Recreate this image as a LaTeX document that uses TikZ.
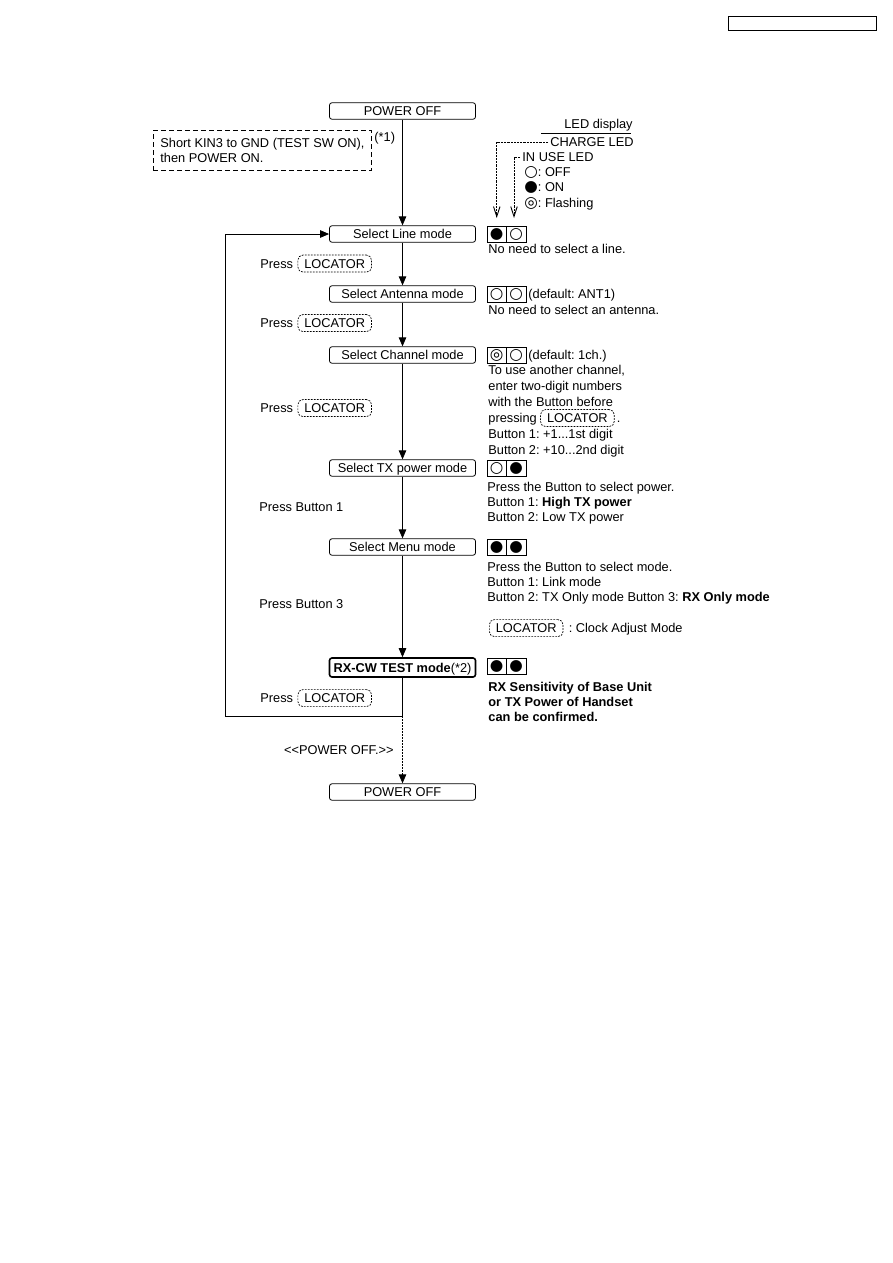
\documentclass[tikz,border=0pt]{standalone}
\usepackage{fontspec}
\setmainfont{Liberation Sans}
\newfontfamily\symfont{DejaVu Sans}
\usetikzlibrary{arrows.meta,positioning}
\frenchspacing

% LED states
\newcommand{\ledon}{{\symfont\fontsize{15.5}{15.5}\selectfont ●}}
\newcommand{\ledoff}{{\symfont\fontsize{15.5}{15.5}\selectfont ○}}
\newcommand{\ledflash}{{\symfont\fontsize{15.5}{15.5}\selectfont ◎}}

\begin{document}
\begin{tikzpicture}[x=1pt,y=-1pt,line width=.8pt,
  font=\fontsize{12.8}{15.5}\selectfont,
  modebox/.style={draw,rounded corners=2.5pt,minimum width=146pt,minimum height=16.5pt,
    inner sep=0pt,text height=9.2pt,text depth=0pt},
  ledcell/.style={draw,minimum width=19.5pt,minimum height=16pt,inner sep=0pt,outer sep=0pt},
  locbox/.style={draw,line width=.7pt,dash pattern=on 1.8pt off 1.2pt,rounded corners=5pt,
    inner xsep=6.5pt,inner ysep=0pt,minimum height=17pt},
  txt/.style={anchor=base west,inner sep=0pt},
  flow/.style={-{Triangle[length=9pt,width=7.5pt]}},
  ledarr/.style={line width=.9pt,dash pattern=on 2.2pt off 1pt,-{Straight Barb[length=10pt,width=6.5pt]}},
  offarr/.style={dash pattern=on 1.5pt off 1.5pt,-{Triangle[length=9pt,width=7.5pt]}}]
\useasboundingbox (0,0) rectangle (893,1263);

% page header box
\node[draw,line width=1.2pt,minimum width=148pt,minimum height=14pt,anchor=north west] (hdr) at (728,16) {};

% mode boxes
\node[modebox] (poff) at (402.5,111) {POWER OFF};
\node[modebox] (line) at (402.5,234) {Select Line mode};
\node[modebox] (ant) at (402.5,294) {Select Antenna mode};
\node[modebox] (chan) at (402.5,355) {Select Channel mode};
\node[modebox] (txp) at (402.5,468) {Select TX power mode};
\node[modebox] (menu) at (402.5,547) {Select Menu mode};
\node[modebox,line width=1.6pt,minimum height=19pt] (rxcw) at (402.5,667.5) {\textbf{RX-CW TEST mode}(*2)};
\node[modebox] (poffb) at (402.5,792) {POWER OFF};

\node[draw,dash pattern=on 5pt off 3pt,align=left,anchor=north west,inner xsep=7pt,
  minimum height=40pt] (kin) at (153,130) {Short KIN3 to GND (TEST SW ON),\\[-1pt]then POWER ON.};
\node[txt] (n1) at (374,141.5) {(*1)};

% LED legend
\node[anchor=base,inner sep=0pt] (leddisp) at (598.5,128.5) {LED display};
\draw (541,133) -- (631,133);
\node[txt] (chg) at (550,146.5) {CHARGE LED};
\node[txt] (inuse) at (522,161.5) {IN USE LED};
\node[txt] (koff) at (524,176.5) {\ledoff: OFF};
\node[txt] (kon) at (524,191.5) {\ledon: ON};
\node[txt] (kfl) at (524,207.5) {\ledflash: Flashing};

% line
\node[ledcell] (lineA) at (496.75,234) {\ledon};
\node[ledcell,right=0pt of lineA] (lineB) {\ledoff};
\node[txt] (lineN) at (488,253.5) {No need to select a line.};
\node[txt] (pr1) at (260,268) {Press};
\node[locbox,base right=4pt of pr1] (loc1) {LOCATOR};

\draw[ledarr] ([xshift=-2pt]chg.west) -| ([yshift=8pt]lineA.north);
\draw[ledarr] ([xshift=-2pt]inuse.west) -| ([xshift=-2.25pt,yshift=8pt]lineB.north);

% antenna
\node[ledcell] (antA) at (496.75,294) {\ledoff};
\node[ledcell,right=0pt of antA] (antB) {\ledoff};
\node[txt] (antD) at (528,298.5) {(default: ANT1)};
\node[txt] (antN) at (488,314.5) {No need to select an antenna.};
\node[txt] (pr2) at (260,327.5) {Press};
\node[locbox,base right=4pt of pr2] (loc2) {LOCATOR};

% channel
\node[ledcell] (chanA) at (496.75,355) {\ledflash};
\node[ledcell,right=0pt of chanA] (chanB) {\ledoff};
\node[txt] (chanD) at (528,359.5) {(default: 1ch.)};
\node[txt] (chan1) at (488,374.5) {To use another channel,};
\node[txt] (chan2) at (488,390.5) {enter two-digit numbers};
\node[txt] (chan3) at (488,406.5) {with the Button before};
\node[txt] (chan4) at (488,422.5) {pressing};
\node[locbox,base right=3pt of chan4] (loc4) {LOCATOR};
\node[txt,base right=2pt of loc4] (chan4b) {.};
\node[txt] (chan5) at (488,438.5) {Button 1: +1...1st digit};
\node[txt] (chan6) at (488,454.5) {Button 2: +10...2nd digit};
\node[txt] (pr3) at (260,412.5) {Press};
\node[locbox,base right=4pt of pr3] (loc3) {LOCATOR};

% TX power
\node[ledcell] (txpA) at (496.75,468) {\ledoff};
\node[ledcell,right=0pt of txpA] (txpB) {\ledon};
\node[txt] (txp1) at (487,491.5) {Press the Button to select power.};
\node[txt] (txp2) at (487,506.5) {Button 1: \textbf{High TX power}};
\node[txt] (txp3) at (487,521.5) {Button 2: Low TX power};
\node[txt] (pb1) at (259,511.5) {Press Button 1};

% menu
\node[ledcell] (menuA) at (496.75,547) {\ledon};
\node[ledcell,right=0pt of menuA] (menuB) {\ledon};
\node[txt] (menu1) at (487,571.5) {Press the Button to select mode.};
\node[txt] (menu2) at (487,586.5) {Button 1: Link mode};
\node[txt] (menu3) at (487,601.5) {Button 2: TX Only mode Button 3: \textbf{RX Only mode}};
\node[locbox,anchor=base west] (loc6) at (489,632.5) {LOCATOR};
\node[txt,base right=5pt of loc6] (clk) {: Clock Adjust Mode};
\node[txt] (pb3) at (259,608.5) {Press Button 3};

% RX-CW test
\node[ledcell] (rxA) at (496.75,666) {\ledon};
\node[ledcell,right=0pt of rxA] (rxB) {\ledon};
\node[txt] (rx1) at (488,691.5) {\textbf{RX Sensitivity of Base Unit}};
\node[txt] (rx2) at (488,706.5) {\textbf{or TX Power of Handset}};
\node[txt] (rx3) at (488,721.5) {\textbf{can be confirmed.}};
\node[txt] (pr4) at (260,702.5) {Press};
\node[locbox,base right=4pt of pr4] (loc5) {LOCATOR};

\coordinate (ret) at (402.5,716);
\coordinate (back) at (225,716);
\node[txt,anchor=base east] (offnote) at (394,754.5) {<\kern0pt<POWER OFF.>\kern0pt>};

% flow
\draw[flow] (poff) -- (line);
\draw[flow] (line) -- (ant);
\draw[flow] (ant) -- (chan);
\draw[flow] (chan) -- (txp);
\draw[flow] (txp) -- (menu);
\draw[flow] (menu) -- (rxcw);
\draw (rxcw) -- (ret);
\draw[flow] (ret) -- (back) |- (line);
\draw[offarr] (ret) -- (poffb);
\end{tikzpicture}
\end{document}
